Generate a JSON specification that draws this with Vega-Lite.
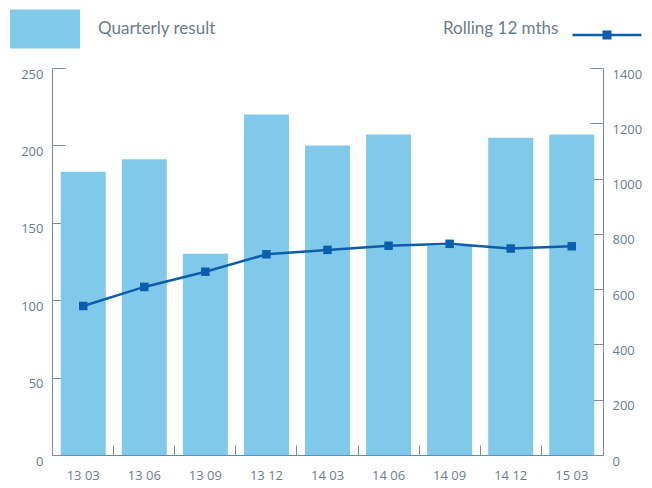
{
  "$schema": "https://vega.github.io/schema/vega-lite/v6.json",
  "width": 551,
  "height": 387,
  "autosize": "none",
  "padding": {"left": 52, "top": 68, "right": 49, "bottom": 33},
  "background": "white",
  "config": {
    "view": {"stroke": null},
    "font": "Open Sans",
    "axis": {
      "grid": false,
      "domainColor": "#7d8c98",
      "tickColor": "#7d8c98",
      "labelColor": "#6c7d8b",
      "labelFont": "Open Sans",
      "labelFontSize": 13,
      "title": null
    }
  },
  "data": {
    "values": [
      {"q": "13 03", "result": 183, "rolling": 539},
      {"q": "13 06", "result": 191, "rolling": 608},
      {"q": "13 09", "result": 130, "rolling": 663},
      {"q": "13 12", "result": 220, "rolling": 726},
      {"q": "14 03", "result": 200, "rolling": 742},
      {"q": "14 06", "result": 207, "rolling": 757},
      {"q": "14 09", "result": 135, "rolling": 764},
      {"q": "14 12", "result": 205, "rolling": 747},
      {"q": "15 03", "result": 207, "rolling": 755}
    ]
  },
  "encoding": {
    "x": {
      "field": "q",
      "type": "ordinal",
      "sort": null,
      "scale": {"paddingInner": 0.263, "paddingOuter": 0.143},
      "axis": {
        "labelAngle": 0,
        "bandPosition": -0.178,
        "tickSize": -10,
        "labelPadding": 24,
        "domainColor": "#4f90bf"
      }
    }
  },
  "layer": [
    {
      "mark": {"type": "bar"},
      "encoding": {
        "y": {
          "field": "result",
          "type": "quantitative",
          "scale": {"domain": [0, 250], "nice": false},
          "axis": {"values": [0, 50, 100, 150, 200, 250], "tickSize": -13, "labelPadding": 22, "labelOffset": 6, "orient": "left"}
        },
        "fill": {
          "datum": "Quarterly result",
          "scale": {"range": ["#80c9ea"]},
          "legend": {
            "orient": "none",
            "legendX": -42,
            "legendY": -74,
            "title": null,
            "symbolType": "M-1,-0.557H1V0.557H-1Z",
            "symbolSize": 4900,
            "symbolStrokeWidth": 0,
            "labelFont": "Lato",
            "labelFontSize": 17,
            "labelColor": "#6c7d8b",
            "labelOffset": 18
          }
        }
      }
    },
    {
      "encoding": {
        "y": {
          "field": "rolling",
          "type": "quantitative",
          "scale": {"domain": [0, 1400], "nice": false},
          "axis": {"orient": "right", "format": "d", "values": [0, 200, 400, 600, 800, 1000, 1200, 1400], "tickSize": -13, "labelPadding": 22, "labelOffset": 6}
        }
      },
      "layer": [
        {
          "mark": {"type": "line", "strokeWidth": 2.5},
          "encoding": {
            "stroke": {
              "datum": "Rolling 12 mths",
              "scale": {"range": ["#0b5ead"]},
              "legend": {
                "orient": "none",
                "legendX": 391,
                "legendY": -69,
                "title": "Rolling 12 mths",
                "titleOrient": "left",
                "titleAnchor": "middle",
                "titleBaseline": "top",
                "titleFont": "Lato",
                "titleFontSize": 17,
                "titleFontWeight": "normal",
                "titleColor": "#6c7d8b",
                "titlePadding": 12,
                "symbolType": "M-1,0H1M-0.095,-0.095H0.095V0.095H-0.095Z",
                "symbolSize": 4761,
                "symbolStrokeWidth": 2.5,
                "symbolFillColor": "#0b5ead",
                "labelExpr": "''"
              }
            }
          }
        },
        {
          "mark": {"type": "point", "shape": "square", "filled": true, "size": 72, "color": "#0b5ead", "opacity": 1},
          "encoding": {}
        }
      ]
    }
  ],
  "resolve": {"scale": {"y": "independent"}}
}
